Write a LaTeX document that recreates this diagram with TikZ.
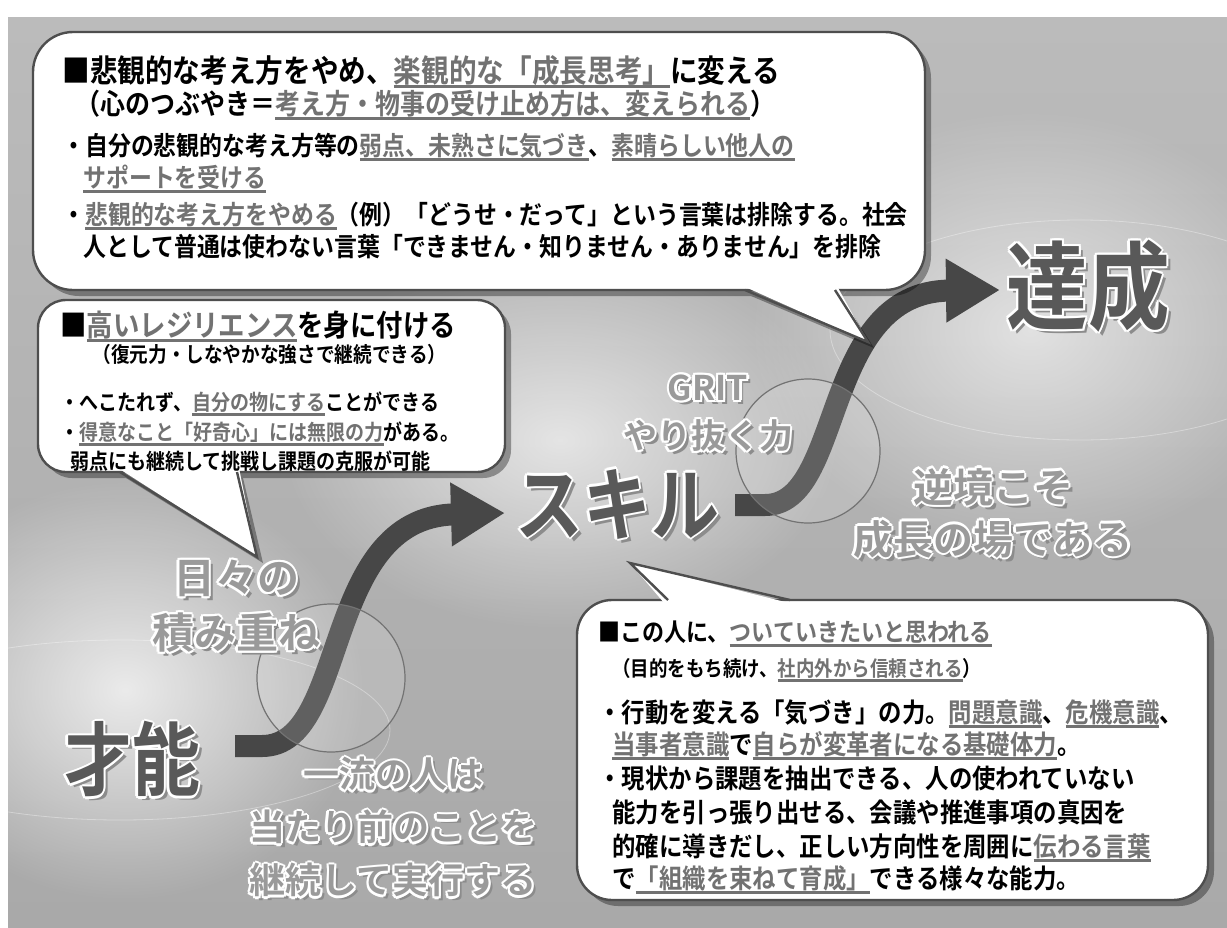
\documentclass[tikz,border=0pt]{standalone}
\usepackage{fontspec}
\usetikzlibrary{shadows,fadings,arrows.meta,calc}
\newfontfamily\jp{Noto Sans CJK JP}[UprightFont=* Bold, FakeStretch=0.88]
\newfontfamily\jpbig{Noto Sans CJK JP}[UprightFont=* Bold, FakeStretch=0.85]
\newfontfamily\jplab{Noto Sans CJK JP}[UprightFont=* Bold]
\definecolor{bgtop}{HTML}{BBBBBB}
\definecolor{bgbot}{HTML}{A9A9A9}
\definecolor{curvec}{HTML}{474747}
\definecolor{bigc}{HTML}{595959}
\definecolor{litec}{HTML}{9A9A9A}
\definecolor{ulc}{HTML}{727272}
\definecolor{edgec}{HTML}{4E4E4E}
\tikzfading[name=glow, inner color=transparent!0, outer color=transparent!100]
\newcommand\gu[1]{{\setbox0\hbox{#1}\rlap{\color{ulc}\rule[-3pt]{\wd0}{1.3pt}}\textcolor{ulc}{\box0}}}
\newcommand\halo[2]{{\setbox0\hbox{#2}%
 \rlap{\kern2pt\lower2pt\hbox{\color{black!45}\copy0}}%
 \color{white}%
 \rlap{\kern1.2pt\copy0}\rlap{\kern-1.2pt\copy0}\rlap{\raise1.2pt\copy0}\rlap{\lower1.2pt\copy0}%
 \rlap{\kern.85pt\raise.85pt\copy0}\rlap{\kern-.85pt\raise.85pt\copy0}%
 \rlap{\kern.85pt\lower.85pt\copy0}\rlap{\kern-.85pt\lower.85pt\copy0}%
 \textcolor{#1}{\box0}}}
\newcommand\fsa{\jp\fontsize{15.7pt}{18pt}\selectfont}
\newcommand\fsb{\jp\fontsize{14.2pt}{17pt}\selectfont}
\newcommand\fsc{\jp\fontsize{13pt}{16pt}\selectfont}
\newcommand\fsd{\jp\fontsize{15pt}{18pt}\selectfont}
\newcommand\fse{\jp\fontsize{10.6pt}{13pt}\selectfont}
\newcommand\fsf{\jp\fontsize{10.8pt}{13pt}\selectfont}
\newcommand\fsg{\jp\fontsize{12.5pt}{15pt}\selectfont}
\newcommand\fsh{\jp\fontsize{10.5pt}{13pt}\selectfont}
\newcommand\fsi{\jp\fontsize{13.3pt}{16pt}\selectfont}
\begin{document}
\begin{tikzpicture}[x=0.5pt,y=-0.5pt,
  bubble/.style={draw=edgec, line width=1.2pt, fill=white,
    drop shadow={shadow xshift=3pt, shadow yshift=-3pt, opacity=.35, fill=black}},
  tailedge/.style={draw=edgec, line width=1.2pt, line join=miter},
  ln/.style={anchor=base west, inner sep=0pt, text=black},
  flow/.style={draw=curvec, line width=11pt, -{Triangle[length=27pt,width=30pt]}},
  lens/.style={draw=black!55, line width=.6pt, fill=white, fill opacity=.14},
  biglab/.style={inner sep=0pt, font=\jpbig\fontsize{40pt}{48pt}\selectfont},
  litelab/.style={inner sep=0pt, align=center}]
\useasboundingbox (0,0) rectangle (1227,927);
\fill[white] (0,0) rectangle (1227,927);
\shade[top color=bgtop, bottom color=bgbot] (8,17) rectangle (1227,927);
% glows
\fill[white, path fading=glow, fill opacity=.75] (125,690) ellipse [x radius=120pt, y radius=105pt];
\fill[white, path fading=glow, fill opacity=.65] (560,440) ellipse [x radius=140pt, y radius=95pt];
\fill[white, path fading=glow, fill opacity=.6] (1030,330) ellipse [x radius=140pt, y radius=110pt];
% faint arcs
\draw[white, opacity=.35, line width=.4pt] (1080,330) ellipse [x radius=125pt, y radius=55pt];
\draw[white, opacity=.35, line width=.4pt] (120,730) ellipse [x radius=135pt, y radius=45pt];
% flow curves
\coordinate (s1) at (235,746);
\coordinate (e1) at (505,513);
\coordinate (s2) at (735,505);
\coordinate (e2) at (1000,290);
\draw[flow] (s1) -- (262,746) .. controls (350,746) and (320,518) .. (e1);
\draw[flow] (s2) -- (765,505) .. controls (845,505) and (820,292) .. (e2);
% lenses
\path[lens] (331,678) circle (37pt);
\path[lens] (808,451) circle (36pt);
% big labels
\node[biglab] (sai) at (132,760) {\halo{bigc}{才能}};
\node[biglab] (skill) at (617,505) {\halo{bigc}{スキル}};
\node[biglab, font=\jpbig\fontsize{48pt}{56pt}\selectfont] (tassei) at (1088,287) {\halo{bigc}{達成}};
% light labels
\node[litelab, font=\jplab\fontsize{21pt}{27.5pt}\selectfont] (hibi) at (236,607) {\halo{litec}{日々の}\\\halo{litec}{積み重ね}};
\node[litelab, font=\jplab\fontsize{18pt}{26.5pt}\selectfont] (ichi) at (393,828) {\halo{litec}{一流の人は}\\\halo{litec}{当たり前のことを}\\\halo{litec}{継続して実行する}};
\node[litelab, font=\jplab\fontsize{17pt}{24pt}\selectfont] (grit) at (708,414) {\halo{litec}{GRIT}\\\halo{litec}{やり抜く力}};
\node[litelab, font=\jplab\fontsize{20pt}{26pt}\selectfont] (gyak) at (993,514) {\halo{litec}{逆境こそ}\\\halo{litec}{成長の場である}};
% ---------- top bubble
\coordinate (ta) at (745,290); \coordinate (tt) at (868,342); \coordinate (tb) at (835,290);
\fill[black, opacity=.35] ($(ta)+(6,6)$) -- ($(tt)+(6,6)$) -- ($(tb)+(6,6)$) -- cycle;
\node[bubble, rounded corners=20pt, minimum width=446pt, minimum height=129pt] (b1) at (479,161) {};
\fill[white] ($(ta)+(-2,-4)$) -- (tt) -- ($(tb)+(2,-4)$) -- cycle;
\draw[tailedge] (ta) -- (tt) -- (tb);
\node[ln, font=\fsa] (t1) at (62,82) {■悲観的な考え方をやめ、\gu{楽観的な「成長思考」}に変える};
\node[ln, font=\fsb] (t2) at (75,114) {（心のつぶやき＝\gu{考え方・物事の受け止め方は、変えられる}）};
\node[ln, font=\fsc] (t3) at (62,155) {・自分の悲観的な考え方等の\gu{弱点、未熟さに気づき}、\gu{素晴らしい他人の}};
\node[ln, font=\fsc] (t4) at (83,187) {\gu{サポートを受ける}};
\node[ln, font=\fsc] (t5) at (62,224) {・\gu{悲観的な考え方をやめる}（例）「どうせ・だって」という言葉は排除する。社会};
\node[ln, font=\fsc] (t6) at (83,256) {人として普通は使わない言葉「できません・知りません・ありません」を排除};
% ---------- left bubble
\coordinate (la) at (120,472); \coordinate (lt) at (257,557); \coordinate (lb) at (237,472);
\fill[black, opacity=.35] ($(la)+(6,6)$) -- ($(lt)+(6,6)$) -- ($(lb)+(6,6)$) -- cycle;
\node[bubble, rounded corners=14pt, minimum width=233.5pt, minimum height=86pt] (b2) at (271.5,386) {};
\fill[white] ($(la)+(-2,-4)$) -- (lt) -- ($(lb)+(2,-4)$) -- cycle;
\draw[tailedge] (la) -- (lt) -- (lb);
\node[ln, font=\fsd] (l1) at (60,336) {■\gu{高いレジリエンス}を身に付ける};
\node[ln, font=\fse] (l2) at (92,362) {（復元力・しなやかな強さで継続できる）};
\node[ln, font=\fsf] (l3) at (60,410) {・へこたれず、\gu{自分の物にする}ことができる};
\node[ln, font=\fsf] (l4) at (60,440) {・\gu{得意なこと「好奇心」には無限の力}がある。};
\node[ln, font=\fsf] (l5) at (70,469) {弱点にも継続して挑戦し課題の克服が可能};
% ---------- bottom-right bubble
\coordinate (ra) at (668,600); \coordinate (rt) at (630,563); \coordinate (rb) at (790,600);
\node[bubble, rounded corners=17.5pt, minimum width=315.5pt, minimum height=150pt] (b3) at (892.5,750) {};
\fill[white] ($(ra)+(-3,4)$) -- (rt) -- ($(rb)+(3,4)$) -- cycle;
\draw[tailedge] (ra) -- (rt) -- (rb);
\node[ln, font=\fsg] (r1) at (598,641) {■この人に、\gu{ついていきたいと思われる}};
\node[ln, font=\fsh] (r2) at (612,676) {（目的をもち続け、\gu{社内外から信頼される}）};
\node[ln, font=\fsi] (r3) at (598,722) {・行動を変える「気づき」の力。\gu{問題意識}、\gu{危機意識}、};
\node[ln, font=\fsi] (r4) at (612,754) {\gu{当事者意識}で\gu{自らが変革者になる基礎体力}。};
\node[ln, font=\fsi] (r5) at (598,788) {・現状から課題を抽出できる、人の使われていない};
\node[ln, font=\fsi] (r6) at (612,822) {能力を引っ張り出せる、会議や推進事項の真因を};
\node[ln, font=\fsi] (r7) at (612,856) {的確に導きだし、正しい方向性を周囲に\gu{伝わる言葉}};
\node[ln, font=\fsi] (r8) at (612,888) {で\gu{「組織を束ねて育成」}できる様々な能力。};
\end{tikzpicture}
\end{document}
